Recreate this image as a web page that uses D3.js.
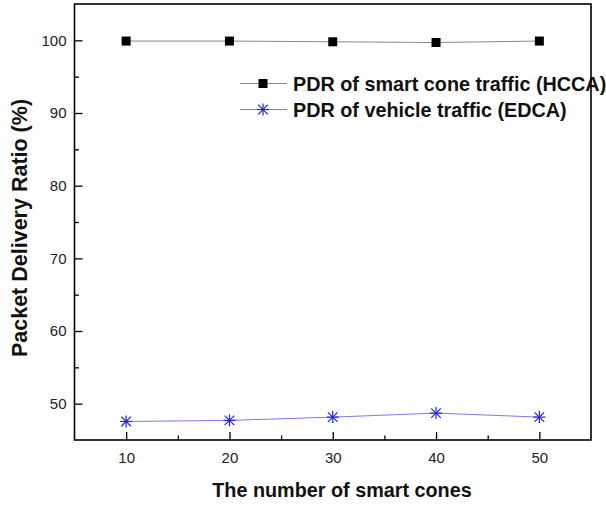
<!DOCTYPE html>
<html><head><meta charset="utf-8">
<script src="https://cdn.jsdelivr.net/npm/d3@7"></script>
<style>body{margin:0;background:#fff}svg{display:block}</style>
</head><body>
<script>
const cones = [10, 20, 30, 40, 50];
const hccaPDR = [99.9, 99.9, 99.8, 99.7, 99.9];
const edcaPDR = [47.55, 47.7, 48.15, 48.7, 48.15];
const xTicks = [10, 20, 30, 40, 50];
const yTicks = [50, 60, 70, 80, 90, 100];
const seriesNames = ["PDR of smart cone traffic (HCCA)", "PDR of vehicle traffic (EDCA)"];

const W = 606, H = 506;
const L = 74.5, R = 591, T = 4, B = 440;
const svg = d3.select("body").append("svg").attr("width", W).attr("height", H);
const x = d3.scaleLinear().domain([5, 55]).range([L, R]);
const y = d3.scaleLinear().domain([45, 105]).range([B, T]);

const xMinor = [15, 25, 35, 45];
const yMinor = [55, 65, 75, 85, 95];
const font = "Arial, 'Liberation Sans', sans-serif";

const xAxis = svg.append("g").attr("transform", `translate(0,${B})`)
  .call(d3.axisBottom(x).tickValues(xTicks).tickSize(-8).tickPadding(12).tickFormat(d3.format("d")));
const yAxis = svg.append("g").attr("transform", `translate(${L},0)`)
  .call(d3.axisLeft(y).tickValues(yTicks).tickSize(-8).tickPadding(8).tickFormat(d3.format("d")));
[xAxis, yAxis].forEach(g => {
  g.select(".domain").remove();
  g.selectAll("line").attr("stroke", "#000").attr("stroke-width", 1.3);
  g.selectAll("text").attr("font-family", font).attr("font-size", 15).attr("fill", "#222");
});
svg.append("g").attr("transform", `translate(0,${B})`)
  .call(d3.axisBottom(x).tickValues(xMinor).tickSize(-4.5).tickFormat(""))
  .call(g => { g.select(".domain").remove(); g.selectAll("line").attr("stroke", "#000").attr("stroke-width", 1.3); });
svg.append("g").attr("transform", `translate(${L},0)`)
  .call(d3.axisLeft(y).tickValues(yMinor).tickSize(-4.5).tickFormat(""))
  .call(g => { g.select(".domain").remove(); g.selectAll("line").attr("stroke", "#000").attr("stroke-width", 1.3); });

svg.append("rect").attr("x", L).attr("y", T).attr("width", R - L).attr("height", B - T)
  .attr("fill", "none").attr("stroke", "#000").attr("stroke-width", 1.6);

const line = d3.line().x((d, i) => x(cones[i])).y(d => y(d));
svg.append("path").datum(hccaPDR).attr("d", line).attr("fill", "none")
  .attr("stroke", "#888").attr("stroke-width", 1);
svg.append("path").datum(edcaPDR).attr("d", line).attr("fill", "none")
  .attr("stroke", "#7a7aee").attr("stroke-width", 1);

function square(g, cx, cy) {
  g.append("rect").attr("x", cx - 4.5).attr("y", cy - 4.5).attr("width", 9).attr("height", 9).attr("fill", "#000");
}
function star(g, cx, cy) {
  const r = 6, blue = "#2323e0";
  const s = g.append("g").attr("stroke", blue).attr("stroke-width", 1.2);
  s.append("line").attr("x1", cx).attr("x2", cx).attr("y1", cy - r).attr("y2", cy + r);
  s.append("line").attr("x1", cx - r).attr("x2", cx + r).attr("y1", cy).attr("y2", cy);
  const d = r * 0.8;
  s.append("line").attr("x1", cx - d).attr("x2", cx + d).attr("y1", cy - d).attr("y2", cy + d);
  s.append("line").attr("x1", cx - d).attr("x2", cx + d).attr("y1", cy + d).attr("y2", cy - d);
}
const mk = svg.append("g");
hccaPDR.forEach((v, i) => square(mk, x(cones[i]), y(v)));
edcaPDR.forEach((v, i) => star(mk, x(cones[i]), y(v)));

const lg = svg.append("g");
const rows = [83.5, 109.5];
lg.append("line").attr("x1", 240).attr("x2", 287).attr("y1", rows[0]).attr("y2", rows[0]).attr("stroke", "#888").attr("stroke-width", 1);
square(lg, 263, rows[0]);
lg.append("line").attr("x1", 240).attr("x2", 287).attr("y1", rows[1]).attr("y2", rows[1]).attr("stroke", "#7a7aee").attr("stroke-width", 1);
star(lg, 263, rows[1]);
seriesNames.forEach((n, i) => {
  lg.append("text").attr("x", 293).attr("y", rows[i] + 7).attr("font-family", font)
    .attr("font-weight", "bold").attr("font-size", 19.8).attr("fill", "#111").text(n);
});

svg.append("text").attr("x", 342).attr("y", 497).attr("text-anchor", "middle")
  .attr("font-family", font).attr("font-weight", "bold").attr("font-size", 19.8).attr("fill", "#111")
  .text("The number of smart cones");
svg.append("text").attr("transform", `translate(27,228) rotate(-90)`).attr("text-anchor", "middle")
  .attr("font-family", font).attr("font-weight", "bold").attr("font-size", 21.5).attr("fill", "#111")
  .text("Packet Delivery Ratio (%)");
</script>
</body></html>
